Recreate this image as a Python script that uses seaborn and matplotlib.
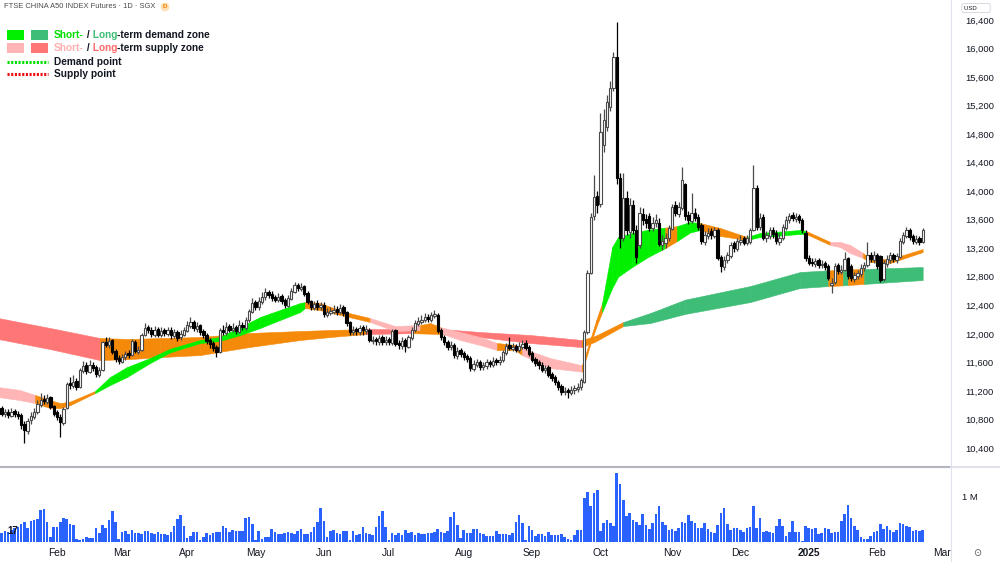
import matplotlib
matplotlib.use('Agg')
import matplotlib.pyplot as plt
from matplotlib.lines import Line2D
from matplotlib.patches import Rectangle
import numpy as np
import pandas as pd
import seaborn as sns

W, H = 1000, 562

# ---- daily candles (FTSE China A50 futures, SGX) ----
opens = [
    10900, 10960, 10870, 10910, 10850, 10920, 10880, 10860, 10740, 10640,
    10790, 10840, 10910, 11010, 11090, 11050, 11110, 10990, 10900, 10840,
    10750, 10960, 11310, 11270, 11340, 11260, 11480, 11560, 11470, 11570,
    11530, 11430, 11490, 11890, 11840, 11910, 11760, 11660, 11610, 11670,
    11730, 11700, 11890, 11750, 11770, 11990, 12090, 12060, 11990, 12070,
    11980, 12050, 12000, 12060, 11970, 12030, 11950, 11990, 12040, 12110,
    12170, 12070, 12120, 12040, 11990, 11910, 11870, 11810, 11750, 12060,
    12010, 12110, 12050, 12090, 12030, 12130, 12080, 12190, 12310, 12440,
    12370, 12450, 12510, 12590, 12560, 12510, 12470, 12530, 12470, 12390,
    12490, 12590, 12690, 12630, 12670, 12570, 12460, 12360, 12430, 12370,
    12410, 12270, 12290, 12310, 12350, 12300, 12370, 12300, 12160, 12020,
    12070, 12030, 12090, 12040, 12060, 11900, 11930, 11890, 11950, 11880,
    11930, 11870, 12050, 11870, 11830, 11910, 11820, 11940, 12050, 12140,
    12170, 12190, 12240, 12200, 12250, 12270, 12050, 11960, 11890, 11810,
    11850, 11690, 11770, 11730, 11690, 11660, 11510, 11570, 11610, 11530,
    11550, 11610, 11570, 11630, 11600, 11630, 11730, 11840, 11790, 11830,
    11770, 11820, 11870, 11810, 11730, 11650, 11600, 11570, 11490, 11530,
    11440, 11390, 11330, 11270, 11180, 11210, 11170, 11210, 11230, 11250,
    11330, 12030, 12860, 13650, 13930, 13820, 14650, 14900, 15180, 15450,
    15880, 14180, 13350, 13900, 13430, 13800, 13460, 13250, 13680, 13610,
    13650, 13480, 13550, 13560, 13240, 13280, 13340, 13470, 13800, 13680,
    13770, 14100, 13660, 13580, 13700, 13640, 13520, 13290, 13370, 13440,
    13370, 13460, 13080, 12940, 13030, 13090, 13270, 13190, 13290, 13340,
    13270, 13290, 13460, 14040, 13500, 13640, 13340, 13370, 13460, 13420,
    13290, 13340, 13490, 13590, 13670, 13610, 13650, 13600, 13420, 13070,
    13010, 12980, 13030, 12960, 12990, 12950, 12690, 12730, 12960, 12870,
    12900, 13060, 12950, 12770, 12810, 12840, 12920, 12970, 13110, 13040,
    13110, 13090, 12770, 12980, 13040, 13110, 13040, 13080, 13290, 13370,
    13460, 13370, 13290, 13340, 13290,
]
highs = [
    11000, 10990, 10940, 10950, 10960, 10950, 10920, 10890, 10780, 10820,
    10900, 10960, 11080, 11170, 11150, 11160, 11130, 11010, 10930, 10870,
    10980, 11330, 11400, 11420, 11380, 11520, 11620, 11600, 11640, 11600,
    11560, 11540, 11900, 11960, 11950, 11930, 11790, 11700, 11720, 11760,
    11770, 11930, 11910, 11830, 12010, 12150, 12130, 12100, 12110, 12100,
    12090, 12080, 12100, 12090, 12070, 12060, 12050, 12100, 12180, 12240,
    12200, 12160, 12140, 12070, 12010, 11940, 11900, 11840, 12080, 12120,
    12170, 12140, 12150, 12120, 12190, 12170, 12240, 12350, 12500, 12480,
    12520, 12580, 12640, 12620, 12600, 12550, 12570, 12560, 12500, 12540,
    12650, 12730, 12720, 12710, 12690, 12600, 12480, 12460, 12470, 12450,
    12440, 12360, 12380, 12400, 12390, 12420, 12400, 12320, 12180, 12110,
    12100, 12130, 12120, 12120, 12080, 11970, 11960, 11990, 11980, 11970,
    11960, 12070, 12070, 11920, 11950, 11940, 11990, 12100, 12190, 12230,
    12260, 12290, 12280, 12310, 12334, 12290, 12080, 11990, 11920, 11900,
    11870, 11810, 11800, 11760, 11720, 11690, 11630, 11650, 11640, 11610,
    11650, 11640, 11670, 11660, 11690, 11780, 11870, 11960, 11870, 11860,
    11880, 11920, 11920, 11840, 11760, 11680, 11640, 11600, 11570, 11560,
    11470, 11420, 11360, 11300, 11250, 11240, 11270, 11290, 11310, 11380,
    12060, 12900, 13700, 14230, 14000, 15100, 15150, 15350, 15550, 15950,
    16372, 14250, 14250, 14000, 13900, 13870, 13520, 13780, 13760, 13680,
    13700, 13640, 13680, 13620, 13380, 13420, 13530, 13820, 13860, 13850,
    14340, 14120, 13720, 13970, 13760, 13680, 13560, 13440, 13480, 13480,
    13500, 13490, 13110, 13090, 13150, 13290, 13300, 13350, 13380, 13370,
    13390, 13480, 14370, 14080, 13700, 13680, 13440, 13500, 13500, 13450,
    13410, 13540, 13650, 13700, 13710, 13690, 13680, 13630, 13450, 13100,
    13060, 13070, 13060, 13030, 13020, 12980, 12780, 12990, 12990, 12960,
    13150, 13080, 12980, 12870, 12900, 12980, 13010, 13290, 13150, 13160,
    13140, 13110, 13030, 13100, 13150, 13140, 13140, 13340, 13430, 13500,
    13490, 13400, 13380, 13370, 13490,
]
lows = [
    10860, 10850, 10840, 10820, 10830, 10840, 10800, 10660, 10470, 10600,
    10740, 10800, 10880, 10980, 11020, 11020, 10950, 10850, 10790, 10555,
    10720, 10940, 11230, 11240, 11210, 11240, 11450, 11440, 11450, 11480,
    11400, 11400, 11480, 11810, 11800, 11720, 11600, 11580, 11590, 11640,
    11660, 11690, 11730, 11720, 11760, 11970, 12010, 11960, 11960, 11950,
    11950, 11970, 11970, 11930, 11940, 11900, 11920, 11970, 12020, 12080,
    12040, 12030, 11990, 11940, 11860, 11800, 11760, 11675, 11730, 11980,
    11990, 12020, 12020, 12000, 12010, 12050, 12060, 12170, 12290, 12340,
    12340, 12420, 12480, 12500, 12460, 12440, 12440, 12420, 12360, 12370,
    12470, 12570, 12600, 12600, 12530, 12420, 12330, 12330, 12340, 12330,
    12240, 12230, 12260, 12280, 12270, 12280, 12250, 12110, 11990, 11980,
    11990, 11990, 11980, 12000, 11880, 11860, 11850, 11850, 11850, 11850,
    11840, 11850, 11830, 11790, 11790, 11745, 11800, 11920, 12030, 12110,
    12140, 12160, 12170, 12170, 12220, 12010, 11910, 11840, 11780, 11770,
    11660, 11650, 11680, 11630, 11600, 11480, 11480, 11530, 11500, 11490,
    11510, 11530, 11540, 11560, 11570, 11610, 11710, 11770, 11760, 11740,
    11740, 11790, 11770, 11690, 11600, 11550, 11510, 11460, 11450, 11400,
    11340, 11280, 11220, 11150, 11140, 11100, 11140, 11160, 11190, 11220,
    11310, 12000, 12840, 13600, 13700, 13780, 14550, 14850, 15120, 15400,
    14100, 13200, 13300, 13380, 13350, 13400, 13000, 13200, 13520, 13480,
    13440, 13440, 13500, 13230, 13180, 13200, 13300, 13450, 13650, 13640,
    13740, 13600, 13540, 13550, 13580, 13460, 13260, 13250, 13330, 13330,
    13340, 13030, 12870, 12900, 12990, 13060, 13150, 13160, 13250, 13240,
    13240, 13260, 13440, 13460, 13460, 13310, 13290, 13330, 13350, 13260,
    13250, 13310, 13460, 13560, 13580, 13570, 13560, 13410, 13020, 12960,
    12950, 12940, 12930, 12920, 12900, 12750, 12573, 12700, 12840, 12840,
    12880, 12770, 12740, 12730, 12770, 12800, 12880, 12940, 13010, 13000,
    12910, 12727, 12740, 12940, 13000, 13010, 13000, 13060, 13260, 13340,
    13320, 13260, 13260, 13250, 13270,
]
closes = [
    10950, 10880, 10900, 10860, 10910, 10870, 10850, 10720, 10650, 10780,
    10850, 10900, 11020, 11080, 11060, 11100, 10980, 10880, 10830, 10760,
    10950, 11300, 11280, 11330, 11250, 11490, 11550, 11480, 11560, 11520,
    11440, 11500, 11880, 11850, 11900, 11750, 11650, 11620, 11680, 11720,
    11700, 11900, 11760, 11780, 11980, 12080, 12050, 12000, 12060, 11990,
    12040, 12010, 12050, 11980, 12020, 11940, 12000, 12050, 12120, 12160,
    12080, 12110, 12030, 11980, 11900, 11860, 11800, 11740, 12050, 12020,
    12100, 12060, 12080, 12040, 12120, 12090, 12200, 12320, 12430, 12380,
    12460, 12520, 12580, 12540, 12500, 12480, 12520, 12460, 12400, 12500,
    12600, 12680, 12640, 12660, 12560, 12450, 12370, 12420, 12380, 12400,
    12280, 12300, 12320, 12340, 12310, 12360, 12290, 12150, 12030, 12060,
    12040, 12080, 12050, 12070, 11910, 11920, 11900, 11940, 11890, 11920,
    11880, 12040, 11860, 11840, 11900, 11830, 11950, 12060, 12150, 12180,
    12200, 12230, 12210, 12260, 12280, 12040, 11950, 11880, 11820, 11840,
    11700, 11760, 11720, 11680, 11650, 11520, 11580, 11600, 11540, 11560,
    11600, 11580, 11620, 11600, 11640, 11740, 11830, 11800, 11820, 11780,
    11830, 11860, 11800, 11720, 11640, 11590, 11560, 11500, 11520, 11430,
    11380, 11320, 11260, 11190, 11200, 11180, 11220, 11240, 11260, 11350,
    12020, 12850, 13640, 13920, 13800, 14830, 15000, 15250, 15450, 15880,
    14185, 13340, 13900, 13450, 13800, 13460, 13080, 13700, 13600, 13560,
    13490, 13560, 13600, 13260, 13300, 13350, 13480, 13780, 13700, 13780,
    14150, 13650, 13600, 13700, 13620, 13500, 13300, 13380, 13420, 13380,
    13450, 13070, 12950, 13040, 13100, 13250, 13200, 13300, 13320, 13280,
    13340, 13450, 14050, 13500, 13620, 13350, 13380, 13450, 13400, 13300,
    13350, 13500, 13600, 13650, 13620, 13640, 13600, 13450, 13060, 13000,
    12990, 13020, 12970, 12980, 12940, 12790, 12720, 12950, 12880, 12900,
    13050, 12810, 12780, 12820, 12850, 12930, 12960, 13100, 13050, 13100,
    12950, 12760, 12990, 13050, 13100, 13050, 13090, 13300, 13380, 13450,
    13360, 13300, 13330, 13290, 13460,
]
# volume in thousands of contracts
volumes = [
    196, 196, 250, 230, 270, 305, 340, 392, 435, 320,
    464, 500, 522, 703, 740, 435, 109, 341, 341, 442,
    544, 522, 399, 377, 73, 51, 73, 102, 87, 87,
    305, 196, 377, 305, 486, 682, 435, 65, 232, 247,
    181, 261, 210, 210, 181, 247, 247, 196, 167, 232,
    181, 181, 160, 232, 363, 508, 595, 363, 87, 123,
    225, 218, 51, 102, 196, 160, 196, 218, 232, 355,
    305, 225, 268, 247, 247, 247, 544, 551, 399, 51,
    247, 65, 109, 109, 297, 232, 167, 167, 210, 225,
    189, 181, 254, 283, 181, 181, 232, 341, 450, 754,
    464, 102, 254, 276, 196, 167, 254, 254, 51, 247,
    160, 167, 326, 210, 181, 145, 341, 587, 682, 341,
    51, 210, 160, 210, 160, 268, 196, 232, 160, 196,
    181, 181, 196, 210, 218, 290, 232, 210, 247, 551,
    667, 377, 87, 268, 210, 210, 297, 297, 196, 174,
    138, 123, 123, 247, 174, 174, 174, 160, 210, 442,
    609, 413, 51, 363, 268, 138, 181, 181, 138, 218,
    160, 160, 160, 174, 120, 73, 51, 160, 268, 268,
    979, 1117, 790, 1088, 1160, 247, 413, 481, 413, 363,
    1537, 1298, 943, 573, 653, 500, 450, 377, 631, 377,
    283, 413, 631, 798, 450, 377, 268, 290, 254, 319,
    435, 428, 609, 471, 428, 319, 305, 428, 290, 232,
    196, 377, 645, 761, 392, 268, 305, 305, 268, 232,
    305, 341, 798, 305, 544, 218, 254, 232, 210, 355,
    508, 355, 123, 232, 457, 232, 232, 29, 348, 305,
    290, 319, 181, 196, 305, 290, 196, 218, 218, 464,
    631, 827, 544, 363, 268, 109, 73, 73, 138, 218,
    254, 400, 290, 348, 268, 232, 268, 428, 392, 355,
    341, 247, 268, 250, 268,
]

# ---- zones: knots (bar index), upper / lower edge, state of the stretch that follows ----
short_x = [0, 6.6, 11.3, 15.9, 19, 22, 29.7, 34.3, 39.5, 46.6,
           52.7, 62, 68, 74.3, 80.4, 86.5, 92.7, 94.2, 98.8, 106.5,
           114.2, 121.9, 129.6, 132.7, 135.7, 141.9, 148, 153.2, 158.8, 160.9,
           169.5, 179.3, 181.8, 183.7, 185.5, 188.6, 190.4, 194.7, 199.6, 204.9,
           208.5, 212.5, 215.6, 221.8, 230, 234, 246.3, 248.2, 255.6, 258.6,
           261.7, 265.7, 267.8, 274, 284]
short_top = [11255, 11213, 11143, 11072, 11030, 11050, 11199, 11395, 11535, 11661,
             11790, 11914, 11956, 12096, 12236, 12334, 12432, 12446, 12432, 12306,
             12222, 12110, 12124, 12152, 12096, 12026, 11956, 11872, 11844, 11800,
             11661, 11560, 11914, 12194, 12432, 13217, 13358, 13414, 13460, 13490,
             13510, 13568, 13554, 13484, 13358, 13414, 13456, 13442, 13288, 13288,
             13246, 13133, 13049, 13049, 13189]
short_bot = [11115, 11072, 11030, 10960, 10960, 11000, 11171, 11283, 11395, 11591,
             11740, 11872, 11900, 11984, 12082, 12194, 12306, 12362, 12334, 12250,
             12166, 12040, 12054, 12054, 12012, 11914, 11844, 11773, 11773, 11703,
             11521, 11470, 11844, 12096, 12306, 12643, 12800, 12937, 13077, 13203,
             13300, 13420, 13456, 13372, 13316, 13358, 13400, 13400, 13246, 13217,
             13133, 13063, 13007, 12993, 13147]
short_state = ['supply', 'supply', 'neutral', 'neutral', 'neutral', 'neutral', 'demand', 'demand', 'demand', 'demand',
               'demand', 'demand', 'demand', 'demand', 'demand', 'demand', 'demand', 'neutral', 'neutral', 'neutral',
               'supply', 'supply', 'neutral', 'neutral', 'supply', 'supply', 'supply', 'neutral', 'neutral', 'supply',
               'supply', 'neutral', 'neutral', 'neutral', 'demand', 'demand', 'demand', 'demand', 'demand', 'neutral',
               'demand', 'demand', 'neutral', 'neutral', 'demand', 'demand', 'demand', 'neutral', 'supply', 'supply',
               'supply', 'neutral', 'neutral', 'neutral']

long_x = [0, 15.9, 31.2, 40.5, 49.7, 62, 77, 92.7, 101.9, 113,
          127, 136, 148, 163.4, 179.3, 183.3, 192, 200.3, 211, 231,
          246.3, 255, 259.5, 261, 266, 284]
long_top = [12222, 12082, 11942, 11928, 11942, 11956, 12012, 12040, 12054, 12068,
            12068, 12068, 12026, 11984, 11914, 11970, 12166, 12292, 12480, 12670,
            12867, 12890, 12900, 12903, 12910, 12937]
long_bot = [11928, 11787, 11633, 11647, 11675, 11703, 11815, 11914, 11956, 11998,
            12010, 11998, 11956, 11872, 11815, 11890, 12110, 12152, 12280, 12446,
            12643, 12670, 12680, 12685, 12700, 12755]
long_state = ['supply', 'supply', 'neutral', 'neutral', 'neutral', 'neutral', 'neutral', 'neutral', 'neutral', 'supply',
              'neutral', 'supply', 'supply', 'supply', 'neutral', 'neutral', 'demand', 'demand', 'demand', 'demand',
              'demand', 'neutral', 'demand', 'neutral', 'demand']

short_colors = {'demand': '#00F000', 'supply': '#FFB5B5', 'neutral': '#F58A0A'}
long_colors = {'demand': '#3EBD76', 'supply': '#FF7676', 'neutral': '#F58A0A'}

holidays = ['2024-02-12', '2024-03-29', '2024-04-10', '2024-05-01', '2024-05-22',
            '2024-08-09', '2024-10-31', '2024-12-25', '2025-01-01', '2025-01-29']

# trading calendar (incl. a few future days for the Mar label)
days = pd.bdate_range('2024-01-08', '2025-03-07')
days = days[~days.isin(pd.to_datetime(holidays))]

df = pd.DataFrame({'open': opens, 'high': highs, 'low': lows, 'close': closes, 'volume': volumes})
df['i'] = np.arange(len(df))
df['date'] = days[:len(df)]

XLIM = (0.5, 292.7)
AX_W = 951


def fx(x):
    return x / W


def fy(y):
    return 1 - y / H


sns.set_theme(style='white')
plt.rcParams['font.family'] = ['Liberation Sans', 'DejaVu Sans']

fig = plt.figure(figsize=(10, 5.62), dpi=100)
fig.patch.set_facecolor('white')
ax = fig.add_axes([0, 95 / H, AX_W / W, 467 / H])
axv = fig.add_axes([0, 20 / H, AX_W / W, 72 / H])


def draw_zone(xs, tops, bots, states, colors, z):
    for k in range(len(xs) - 1):
        c = colors[states[k]]
        ax.fill_between([xs[k], xs[k + 1]], [bots[k], bots[k + 1]], [tops[k], tops[k + 1]],
                        color=c, edgecolor=c, linewidth=0.4, zorder=z)


draw_zone(long_x, long_top, long_bot, long_state, long_colors, 1)
draw_zone(short_x, short_top, short_bot, short_state, short_colors, 2)

# candles
up = df['close'] >= df['open']
body_lo = df[['open', 'close']].min(axis=1)
body_h = (df['close'] - df['open']).abs().clip(lower=10)
ax.vlines(df.loc[up, 'i'], df.loc[up, 'low'], df.loc[up, 'high'], color='#4a4a4a', lw=0.9, zorder=3)
ax.vlines(df.loc[~up, 'i'], df.loc[~up, 'low'], df.loc[~up, 'high'], color='#000000', lw=0.9, zorder=3)
ax.bar(df.loc[up, 'i'], body_h[up], bottom=body_lo[up], width=0.72, color='white',
       edgecolor='#4a4a4a', linewidth=0.8, zorder=4)
ax.bar(df.loc[~up, 'i'], body_h[~up], bottom=body_lo[~up], width=0.72, color='#000000',
       edgecolor='#000000', linewidth=0.8, zorder=4)

# volume
sns.barplot(data=df, x='i', y='volume', native_scale=True, color='#2962FF', saturation=1,
            width=0.8, errorbar=None, linewidth=0, ax=axv)

for a in (ax, axv):
    a.set_xlim(XLIM)
    a.set_facecolor('white')
    a.set_xticks([])
    a.set_xlabel('')
    a.set_ylabel('')
    a.grid(False)
    for s in a.spines.values():
        s.set_visible(False)
    a.yaxis.tick_right()

ax.set_ylim(10134, 16680)
yt = list(range(10400, 16401, 400))
ax.set_yticks(yt)
ax.set_yticklabels([f'{v:,}' for v in yt])
ax.tick_params(axis='y', length=0, pad=10, labelsize=6.8, labelcolor='#131722')

axv.set_ylim(0, 1600)
axv.set_yticks([1000])
axv.set_yticklabels(['1 M'])
axv.tick_params(axis='y', length=0, pad=8, labelsize=6.8, labelcolor='#131722')

# separators
fig.add_artist(Line2D([fx(AX_W), fx(AX_W)], [0, 1], color='#E0E3EB', lw=0.8))
fig.add_artist(Line2D([0, fx(AX_W)], [fy(467), fy(467)], color='#B2B5BE', lw=1.5))
fig.add_artist(Line2D([fx(AX_W), 1], [fy(467), fy(467)], color='#E0E3EB', lw=1.5))

# month labels
prev = None
for k, d in enumerate(days):
    key = (d.year, d.month)
    if prev is not None and key != prev:
        xp = (k - XLIM[0]) / (XLIM[1] - XLIM[0]) * AX_W
        lab = str(d.year) if d.month == 1 else d.strftime('%b')
        fig.text(fx(xp), fy(553), lab, ha='center', va='center', fontsize=7.4, color='#131722',
                 fontweight='bold' if d.month == 1 else 'normal')
    prev = key
fig.text(fx(977), fy(553), '⊙', ha='center', va='center', fontsize=7, color='#555555',
         family=['DejaVu Sans'])

# header
fig.text(fx(4), fy(7), 'FTSE CHINA A50 INDEX Futures · 1D · SGX', fontsize=5.4, color='#4a4a4a',
         va='center', ha='left')
fig.text(fx(165), fy(7), 'D', fontsize=4.4, color='#F57C00', ha='center', va='center', fontweight='bold',
         bbox=dict(boxstyle='circle,pad=0.3', fc='#FFE0B2', ec='none'))
fig.text(fx(976), fy(8), 'USD       ', fontsize=4.3, color='#131722', ha='center', va='center',
         bbox=dict(boxstyle='round,pad=0.35', fc='white', ec='#D1D4DC', lw=0.6))
fig.text(fx(7), fy(531), '17', fontsize=7, color='#131722', fontweight='bold', ha='left', va='center')

# legend
def swatch(x0, y0, w, h, c):
    fig.add_artist(Rectangle((fx(x0), fy(y0 + h)), w / W, h / H, transform=fig.transFigure,
                             facecolor=c, edgecolor='none'))


swatch(7, 30, 17, 10, short_colors['demand'])
swatch(31, 30, 17, 10, long_colors['demand'])
swatch(7, 43, 17, 10, short_colors['supply'])
swatch(31, 43, 17, 10, long_colors['supply'])
fig.add_artist(Line2D([fx(7), fx(48)], [fy(62), fy(62)], color='#00E000', lw=2.2,
                      linestyle=(0, (0.7, 0.5))))
fig.add_artist(Line2D([fx(7), fx(48)], [fy(74), fy(74)], color='#F01010', lw=2.2,
                      linestyle=(0, (0.7, 0.5))))

renderer = fig.canvas.get_renderer()


def rich(x0, y0, parts):
    x = x0
    for s, c in parts:
        t = fig.text(fx(x), fy(y0), s, color=c, fontsize=7.3, fontweight='bold', ha='left', va='center')
        x += t.get_window_extent(renderer=renderer).width


rich(54, 35, [('Short-', '#00E000'), (' /', '#131722'), (' Long', '#3EBD76'), ('-term demand zone', '#131722')])
rich(54, 48, [('Short-', '#FFAFAF'), (' /', '#131722'), (' Long', '#FF6B6B'), ('-term supply zone', '#131722')])
rich(54, 62, [('Demand point', '#131722')])
rich(54, 74, [('Supply point', '#131722')])

fig.savefig('out.png', dpi=100, facecolor='white')
